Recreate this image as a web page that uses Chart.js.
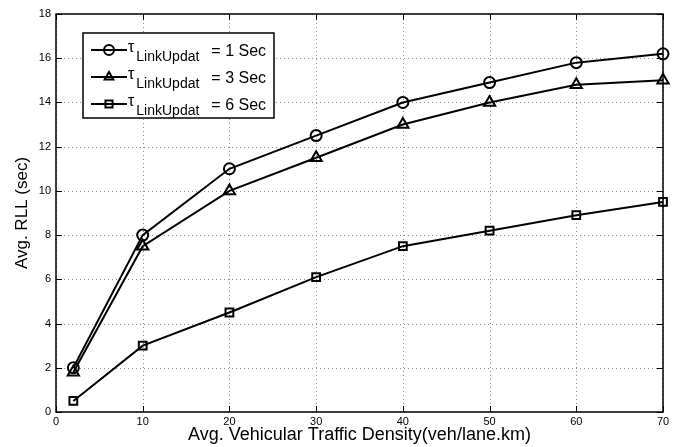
<!DOCTYPE html>
<html><head><meta charset="utf-8">
<script src="https://cdn.jsdelivr.net/npm/chart.js@4"></script>
<style>html,body{margin:0;padding:0;background:#fff}#wrap{width:675px;height:447px}</style>
</head><body><div id="wrap"><canvas id="c" width="675" height="447"></canvas></div>
<script>
const xValues = [2, 10, 20, 30, 40, 50, 60, 70];
const rll1 = [2, 8, 11, 12.5, 14, 14.9, 15.8, 16.2];
const rll3 = [1.8, 7.5, 10, 11.5, 13, 14, 14.8, 15];
const rll6 = [0.5, 3, 4.5, 6.1, 7.5, 8.2, 8.9, 9.5];
const seriesNames = ["τLinkUpdat = 1 Sec", "τLinkUpdat = 3 Sec", "τLinkUpdat = 6 Sec"];
const legendSym = "τ";
const legendSub = "LinkUpdat";
const legendTails = ["= 1 Sec", "= 3 Sec", "= 6 Sec"];
const xTitle = "Avg. Vehicular Traffic Density(veh/lane.km)";
const yTitle = "Avg. RLL (sec)";

const FONT = "'Liberation Sans', Arial, Helvetica, sans-serif";
const toPts = ys => xValues.map((x, i) => ({x: x, y: ys[i]}));
const styles = ['circle', 'triangle', 'rect'];
const radii = [5.5, 6.5, 5.5];
const mk = (ys, i) => ({
  label: seriesNames[i], data: toPts(ys), borderColor: '#000', borderWidth: 2,
  pointStyle: styles[i], pointRadius: radii[i], pointBackgroundColor: 'rgba(255,255,255,0)',
  pointBorderColor: '#000', pointBorderWidth: 2, tension: 0, fill: false, clip: false
});

const gridPlugin = {
  id: 'dotgrid',
  beforeDatasetsDraw(chart) {
    const ctx = chart.ctx, a = chart.chartArea;
    const xs = chart.scales.x, ys = chart.scales.y;
    ctx.save();
    ctx.strokeStyle = '#8c8c8c'; ctx.lineWidth = 1; ctx.setLineDash([1, 3]);
    xs.ticks.forEach(t => {
      const px = Math.round(xs.getPixelForValue(t.value)) + 0.5;
      ctx.beginPath(); ctx.moveTo(px, a.bottom); ctx.lineTo(px, a.top); ctx.stroke();
    });
    ys.ticks.forEach(t => {
      const py = Math.round(ys.getPixelForValue(t.value)) + 0.5;
      ctx.beginPath(); ctx.moveTo(a.left, py); ctx.lineTo(a.right, py); ctx.stroke();
    });
    ctx.restore();
  }
};

const framePlugin = {
  id: 'frame',
  afterDraw(chart) {
    const ctx = chart.ctx, a = chart.chartArea;
    const xs = chart.scales.x, ys = chart.scales.y;
    ctx.save();
    ctx.strokeStyle = '#000'; ctx.lineWidth = 1;
    xs.ticks.forEach(t => {
      const px = Math.round(xs.getPixelForValue(t.value)) + 0.5;
      ctx.beginPath(); ctx.moveTo(px, a.bottom); ctx.lineTo(px, a.bottom - 6);
      ctx.moveTo(px, a.top); ctx.lineTo(px, a.top + 6); ctx.stroke();
    });
    ys.ticks.forEach(t => {
      const py = Math.round(ys.getPixelForValue(t.value)) + 0.5;
      ctx.beginPath(); ctx.moveTo(a.left, py); ctx.lineTo(a.left + 6, py);
      ctx.moveTo(a.right, py); ctx.lineTo(a.right - 6, py); ctx.stroke();
    });
    ctx.lineWidth = 1.5;
    ctx.strokeRect(a.left, a.top, a.right - a.left, a.bottom - a.top);
    // legend
    const lx = 83, ly = 33, lw = 191, lh = 85;
    ctx.fillStyle = '#fff';
    ctx.fillRect(lx, ly, lw, lh);
    ctx.lineWidth = 1.5; ctx.strokeStyle = '#000';
    ctx.strokeRect(lx, ly, lw, lh);
    chart.data.datasets.forEach((ds, i) => {
      const yy = ly + 17 + i * 27;
      ctx.lineWidth = 2; ctx.strokeStyle = '#000';
      ctx.beginPath(); ctx.moveTo(lx + 8, yy); ctx.lineTo(lx + 44, yy); ctx.stroke();
      ctx.fillStyle = 'rgba(255,255,255,0)';
      Chart.helpers.drawPoint(ctx, {pointStyle: ds.pointStyle, radius: 5, borderWidth: 2}, lx + 26, yy);
      ctx.fillStyle = '#000';
      ctx.textBaseline = 'alphabetic'; ctx.textAlign = 'left';
      ctx.font = '16px ' + FONT;
      ctx.fillText(legendSym, lx + 45, yy + 2);
      const w1 = ctx.measureText(legendSym).width;
      ctx.font = '14px ' + FONT;
      ctx.fillText(legendSub, lx + 47 + w1, yy + 11);
      const w2 = ctx.measureText(legendSub).width;
      ctx.font = '16px ' + FONT;
      ctx.fillText(legendTails[i], lx + 47 + w1 + w2 + 12, yy + 6);
    });
    ctx.restore();
  }
};

new Chart(document.getElementById('c'), {
  type: 'line',
  data: { datasets: [mk(rll1, 0), mk(rll3, 1), mk(rll6, 2)] },
  options: {
    responsive: false, animation: false,
    layout: { padding: { top: 14, right: 12, left: 0, bottom: 0 } },
    plugins: { legend: { display: false }, tooltip: { enabled: false } },
    scales: {
      x: {
        type: 'linear', min: 0, max: 70,
        ticks: { stepSize: 10, color: '#000', font: { family: FONT, size: 11 }, padding: 3, maxRotation: 0 },
        grid: { display: false, drawTicks: false, tickLength: 0 },
        border: { display: false },
        title: { display: true, text: xTitle, color: '#000', font: { family: FONT, size: 18 }, padding: { top: 0, bottom: 1 } },
        afterFit(s) { s.height = 35; }
      },
      y: {
        min: 0, max: 18,
        ticks: { stepSize: 2, color: '#000', font: { family: FONT, size: 11 }, padding: 5 },
        grid: { display: false, drawTicks: false, tickLength: 0 },
        border: { display: false },
        title: { display: true, text: yTitle, color: '#000', font: { family: FONT, size: 17 }, padding: { top: 12, bottom: 0 } },
        afterFit(s) { s.width = 56; }
      }
    }
  },
  plugins: [gridPlugin, framePlugin]
});
</script>
</body></html>
